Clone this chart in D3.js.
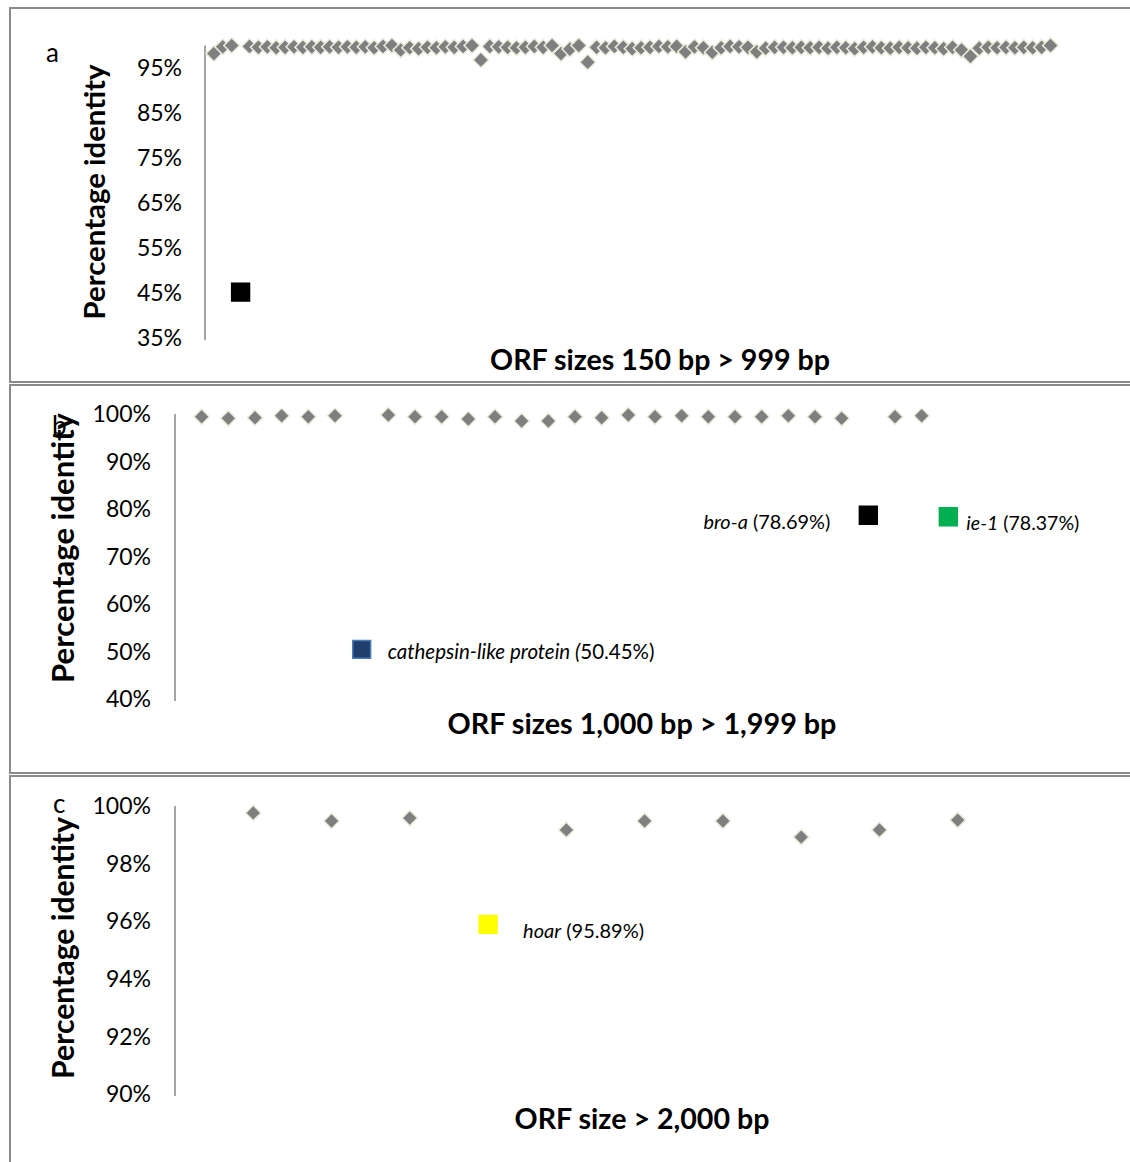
<!DOCTYPE html>
<html><head><meta charset="utf-8">
<script src="https://cdn.jsdelivr.net/npm/d3@7"></script>
<style>body{margin:0;background:#fff}svg{display:block}text{font-family:Lato,"Open Sans",sans-serif;fill:#000}</style>
</head><body><svg id="c" width="1130" height="1162"></svg>
<script>
// ---------- DATA ----------
// Panel a: ORF sizes 150 bp > 999 bp (ORF 1..95); null = shown as special marker
const aValues = [
 98.2, 99.7, 100.0, null, 99.8, 99.6, 99.7, 99.5, 99.6, 99.7,
 99.6, 99.7, 99.6, 99.7, 99.6, 99.7, 99.6, 99.7, 99.5, 99.8,
 100.0, 99.0, 99.5, 99.3, 99.6, 99.5, 99.7, 99.6, 99.8, 100.0,
 96.8, 99.8, 99.7, 99.6, 99.5, 99.6, 99.8, 99.6, 100.0, 98.2,
 99.2, 100.0, 96.3, 99.6, 99.5, 99.8, 99.6, 99.3, 99.5, 99.6,
 99.8, 99.7, 99.8, 98.6, 99.7, 99.5, 98.5, 99.5, 99.8, 99.7,
 99.6, 98.6, 99.4, 99.6, 99.6, 99.5, 99.6, 99.5, 99.6, 99.4,
 99.6, 99.5, 99.3, 99.6, 99.7, 99.5, 99.4, 99.6, 99.5, 99.4,
 99.6, 99.5, 99.3, 99.6, 99.0, 97.6, 99.4, 99.6, 99.5, 99.6,
 99.5, 99.6, 99.5, 99.6, 100.0
];
const aSpecialPos = [4];
const aSpecialValue = [45.2];
const aTicks = [35, 45, 55, 65, 75, 85, 95];

// Panel b: ORF sizes 1,000 bp > 1,999 bp (ORF 1..29)
const bValues = [
 99.43, 99.09, 99.22, 99.64, 99.43, 99.64, null, 99.79, 99.43, 99.43,
 98.95, 99.43, 98.53, 98.53, 99.43, 99.22, 99.79, 99.43, 99.64, 99.43,
 99.43, 99.43, 99.64, 99.43, 99.09, null, 99.43, 99.64, null
];
const bSpecialPos = [7, 26, 29];
const bSpecialValue = [50.45, 78.69, 78.37];
const bSpecialName = ["cathepsin-like protein (", "bro-a", "ie-1"];
const bSpecialText = ["50.45%)", " (78.69%)", " (78.37%)"];
const bTicks = [40, 50, 60, 70, 80, 90, 100];

// Panel c: ORF size > 2,000 bp (ORF 1..10)
const cValues = [99.76, 99.48, 99.58, null, 99.17, 99.48, 99.48, 98.92, 99.17, 99.51];
const cSpecialPos = [4];
const cSpecialValue = [95.89];
const cSpecialName = ["hoar"];
const cSpecialText = [" (95.89%)"];
const cTicks = [90, 92, 94, 96, 98, 100];

const titles = ["ORF sizes 150 bp > 999 bp", "ORF sizes 1,000 bp > 1,999 bp", "ORF size > 2,000 bp"];
const panelLetters = ["a", "b", "c"];
const yTitle = "Percentage identity";

// ---------- DRAW ----------
const svg = d3.select("#c");
svg.append("rect").attr("width",1130).attr("height",1162).attr("fill","#fff");

const BORDER = "#8a8a8a";
[[8,382],[385,773],[776,1175]].forEach(([t,b])=>{
  svg.append("rect").attr("x",10).attr("y",t).attr("width",1140).attr("height",b-t)
    .attr("fill","none").attr("stroke",BORDER).attr("stroke-width",2);
});

function fit(sel, w){
  const n = sel.node(); const fs = parseFloat(sel.style("font-size"));
  const cur = n.getComputedTextLength(); if(cur>0) sel.style("font-size",(fs*w/cur)+"px");
}

function diamond(g, x, y, vals, area){
  g.selectAll("path.dm").data(vals.map((v,i)=>({k:i+1,v})).filter(d=>d.v!==null))
   .join("path").attr("class","dm")
   .attr("transform",d=>`translate(${x(d.k)},${y(d.v)}) rotate(45)`)
   .attr("d",d3.symbol(d3.symbolSquare,area)())
   .attr("fill","#7f7f7f").attr("stroke","#ecebdc").attr("stroke-width",1.5);
}
function square(g, x, y, pos, val, fill, stroke){
  g.append("path").attr("transform",`translate(${x(pos)},${y(val)})`)
   .attr("d",d3.symbol(d3.symbolSquare,320)()).attr("fill",fill).attr("stroke",stroke).attr("stroke-width",1.5);
}
function yAxis(g, x0, y, ticks, labelRight, fmt, w){
  g.append("line").attr("x1",x0).attr("x2",x0).attr("y1",y.range()[1]).attr("y2",y.range()[0]+2)
   .attr("stroke","#868686").attr("stroke-width",1.5);
  g.selectAll("text.tk").data(ticks).join("text").attr("class","tk")
   .attr("x",labelRight).attr("y",d=>y(d)).attr("dy","0.36em").attr("text-anchor","end")
   .style("font-size","23px").text(fmt);
}
function titleText(txt, cx, cy, w){
  const t = svg.append("text").attr("x",cx).attr("y",cy).attr("dy","0.35em").attr("text-anchor","middle")
   .style("font-size","25px").style("font-weight","bold").text(txt);
  fit(t,w);
}
function yTitleText(cx, cy, w){
  const t = svg.append("text").attr("transform",`translate(${cx},${cy}) rotate(-90)`).attr("dy","0.35em")
   .attr("text-anchor","middle").style("font-size","24px").style("font-weight","bold").text(yTitle);
  fit(t,w);
}
function annot(g, x0, y0, anchor, italicPart, normalPart, w){
  const t = g.append("text").attr("x",x0).attr("y",y0).attr("dy","0.35em").attr("text-anchor",anchor)
   .style("font-size","16px");
  t.append("tspan").style("font-style","italic").text(italicPart);
  t.append("tspan").text(normalPart);
  fit(t,w);
}
function letter(txt, x0, y0){
  svg.append("text").attr("x",x0).attr("y",y0).attr("dy","0.35em").style("font-size","26px").text(txt);
}
const pct = d=>d+"%";

// Panel a
{
  const g = svg.append("g");
  const x = d3.scaleLinear().domain([0,100]).range([205,1095]);
  const y = d3.scaleLinear().domain([35,100]).range([338,45.5]);
  yAxis(g, 205, y, aTicks, 182, pct);
  diamond(g, x, y, aValues, 125);
  aSpecialPos.forEach((p,i)=>square(g,x,y,p,aSpecialValue[i],"#000","#000"));
  titleText(titles[0], 660, 360, 340);
  yTitleText(95, 192, 255);
  letter(panelLetters[0], 46, 53);
}
// Panel b
{
  const g = svg.append("g");
  const x = d3.scaleLinear().domain([0,30]).range([175,975]);
  const y = d3.scaleLinear().domain([40,100]).range([699,414]);
  yAxis(g, 175, y, bTicks, 151, pct);
  diamond(g, x, y, bValues, 120);
  const fills = ["#1f3e6b","#000","#00b050"], strokes = ["#4a7ebb","#000","#00b050"];
  bSpecialPos.forEach((p,i)=>square(g,x,y,p,bSpecialValue[i],fills[i],strokes[i]));
  annot(g, x(bSpecialPos[0])+26, y(bSpecialValue[0])+2, "start", bSpecialName[0], bSpecialText[0], 267);
  annot(g, x(bSpecialPos[1])-38, y(bSpecialValue[1])+7, "end", bSpecialName[1], bSpecialText[1], 127);
  annot(g, x(bSpecialPos[2])+18, y(bSpecialValue[2])+6, "start", bSpecialName[2], bSpecialText[2], 113);
  titleText(titles[1], 642, 724, 389);
  yTitleText(63, 548, 270);
  letter(panelLetters[1], 52, 426);
}
// Panel c
{
  const g = svg.append("g");
  const x = d3.scaleLinear().domain([0,11]).range([175,1036]);
  const y = d3.scaleLinear().domain([90,100]).range([1094,806]);
  yAxis(g, 175, y, cTicks, 151, pct);
  diamond(g, x, y, cValues, 120);
  cSpecialPos.forEach((p,i)=>square(g,x,y,p,cSpecialValue[i],"#ffff00","#ffff00"));
  annot(g, x(cSpecialPos[0])+35, y(cSpecialValue[0])+7, "start", cSpecialName[0], cSpecialText[0], 121);
  titleText(titles[2], 642, 1119, 255);
  yTitleText(63, 948, 262);
  letter(panelLetters[2], 53, 804);
}
</script></body></html>
